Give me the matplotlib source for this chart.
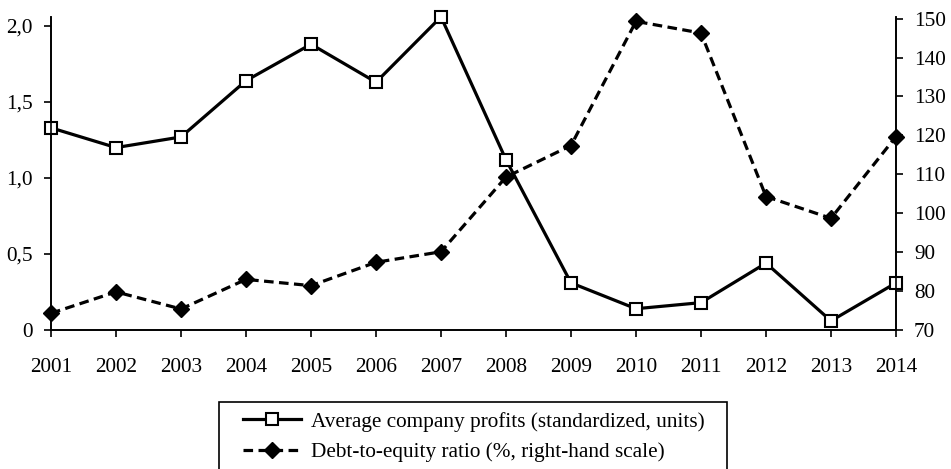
import matplotlib
matplotlib.use("Agg")
import matplotlib.pyplot as plt
from matplotlib.ticker import FixedLocator, FixedFormatter
from matplotlib.patches import Rectangle

years = [2001, 2002, 2003, 2004, 2005, 2006, 2007, 2008, 2009, 2010, 2011, 2012, 2013, 2014]
profits = [1.33, 1.20, 1.27, 1.64, 1.88, 1.63, 2.06, 1.12, 0.31, 0.14, 0.18, 0.44, 0.06, 0.31]
debt_equity = [74.3, 79.8, 75.4, 83.0, 81.4, 87.4, 90.1, 109.3, 117.4, 149.3, 146.3, 104.3, 98.7, 119.7]
left_ticks = [0, 0.5, 1.0, 1.5, 2.0]
left_labels = ["0", "0,5", "1,0", "1,5", "2,0"]
right_ticks = [70, 80, 90, 100, 110, 120, 130, 140, 150]
label_profits = "Average company profits (standardized, units)"
label_debt = "Debt-to-equity ratio (%, right-hand scale)"

plt.rcParams['font.family'] = ['Liberation Serif', 'DejaVu Serif']
FS = 15.3

fig = plt.figure(figsize=(9.51, 4.69), dpi=100)
W, H = 951, 469
ax = fig.add_axes([51 / W, (H - 330) / H, (896 - 51) / W, (330 - 16.7) / H])
ax2 = ax.twinx()

l1, = ax.plot(years, profits, color='black', lw=2.3, marker='s', markersize=8,
              markerfacecolor='white', markeredgecolor='black', markeredgewidth=1.5,
              label=label_profits, zorder=3, clip_on=False)
l2, = ax2.plot(years, debt_equity, color='black', lw=2.3, marker='D', markersize=8,
               markerfacecolor='black', markeredgecolor='black',
               linestyle=(0, (3, 1.7)), label=label_debt, zorder=3, clip_on=False)

ax.set_xlim(2001, 2014)
ax.set_ylim(0, 2.061)
ax2.set_ylim(70, 150.5)

ax.set_xticks(years)
ax.set_xticklabels([str(y) for y in years])
ax.yaxis.set_major_locator(FixedLocator(left_ticks))
ax.yaxis.set_major_formatter(FixedFormatter(left_labels))
ax2.set_yticks(right_ticks)
ax2.set_yticklabels([str(t) for t in right_ticks])

for a in (ax, ax2):
    a.tick_params(axis='both', direction='out', length=5, width=1.2, labelsize=FS, colors='black')
    a.spines['top'].set_visible(False)
    for s in ('left', 'right', 'bottom'):
        a.spines[s].set_linewidth(1.2)
ax.tick_params(axis='x', pad=15)
ax.tick_params(axis='y', pad=8)
ax2.tick_params(axis='y', pad=8)
ax.patch.set_visible(False)

# legend frame
fig.patches.append(Rectangle((219 / W, -0.05), (727 - 219) / W, (H - 402) / H + 0.05,
                             transform=fig.transFigure, facecolor='white',
                             edgecolor='black', linewidth=1.2, zorder=1))
leg = fig.legend(handles=[l1, l2], loc='upper left',
                 bbox_to_anchor=(243 / W, (H - 412) / H), fontsize=FS,
                 frameon=False, handlelength=2.75,
                 borderpad=0, labelspacing=0.5, handletextpad=0.45, borderaxespad=0)
leg.set_zorder(2)

fig.savefig("out.png", dpi=100)
